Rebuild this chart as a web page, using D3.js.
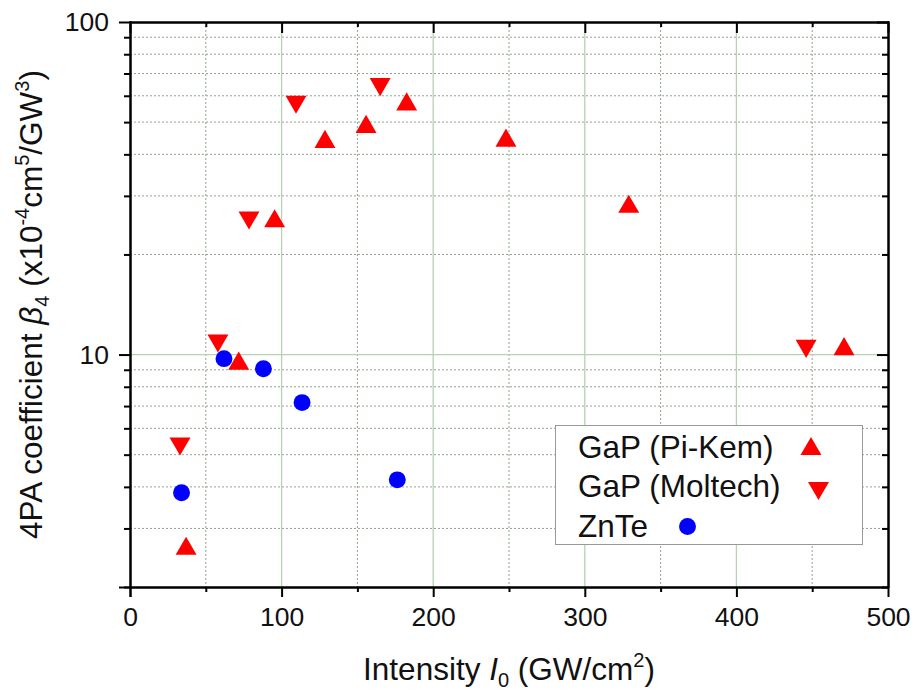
<!DOCTYPE html>
<html>
<head>
<meta charset="utf-8">
<script src="https://cdn.jsdelivr.net/npm/d3@7"></script>
<style>
  html, body { margin: 0; padding: 0; background: #fff; }
  svg { display: block; font-family: "Liberation Sans", Arial, sans-serif; }
</style>
</head>
<body>
<svg id="chart" width="915" height="693"></svg>
<script>
// Intensity I0 (GW/cm^2) and 4PA coefficient beta4 (x10^-4 cm^5/GW^3)
const piKemX = [37, 71.7, 95.4, 128.6, 155.7, 182.5, 248, 329, 471];
const piKemY = [2.66, 9.59, 25.7, 44.5, 49.4, 57.7, 44.9, 28.4, 10.6];

const moltechX = [33, 58, 78.5, 109.5, 165, 446];
const moltechY = [5.29, 10.8, 25.3, 56.4, 63.7, 10.4];

const znteX = [34, 62, 88, 113.5, 176.3];
const znteY = [3.84, 9.72, 9.06, 7.17, 4.20];

const xMajorTicks = [0, 100, 200, 300, 400, 500];
const xMinorTicks = [50, 150, 250, 350, 450];
const yMajorTicks = [10, 100];
const yMinorTicks = [2, 3, 4, 5, 6, 7, 8, 9, 20, 30, 40, 50, 60, 70, 80, 90];

const legendLabels = ["GaP (Pi-Kem)", "GaP (Moltech)", "ZnTe"];

(function draw() {
  const svg = d3.select("#chart");
  const pL = 130, pR = 888, pT = 22, pB = 587;
  const titleSize = 31.5, supSize = 20;

  const x = d3.scaleLinear().domain([0, 500]).range([pL, pR]);
  const y = d3.scaleLog().domain([2, 100]).range([pB, pT]);

  // grid
  const grid = svg.append("g");
  grid.selectAll(".gxm").data(xMinorTicks).join("line")
    .attr("x1", d => x(d)).attr("x2", d => x(d)).attr("y1", pT).attr("y2", pB)
    .attr("stroke", "#8fa58f").attr("stroke-width", 1).attr("stroke-dasharray", "2,2");
  grid.selectAll(".gym").data(yMinorTicks.filter(d => d > 2)).join("line")
    .attr("y1", d => y(d)).attr("y2", d => y(d)).attr("x1", pL).attr("x2", pR)
    .attr("stroke", "#8fa58f").attr("stroke-width", 1).attr("stroke-dasharray", "2,2");
  grid.selectAll(".gxM").data(xMajorTicks.filter(d => d > 0 && d < 500)).join("line")
    .attr("x1", d => x(d)).attr("x2", d => x(d)).attr("y1", pT).attr("y2", pB)
    .attr("stroke", "#b4d2b4").attr("stroke-width", 1.3);
  grid.selectAll(".gyM").data([10]).join("line")
    .attr("y1", d => y(d)).attr("y2", d => y(d)).attr("x1", pL).attr("x2", pR)
    .attr("stroke", "#b4d2b4").attr("stroke-width", 1.3);

  // axes
  function styleAxis(g) {
    g.select(".domain").attr("stroke", "#000").attr("stroke-width", 2);
    g.selectAll(".tick line").attr("stroke", "#000").attr("stroke-width", 2);
    g.selectAll("text").attr("font-size", 26.5).attr("fill", "#111")
      .attr("font-family", "Liberation Sans, Arial, sans-serif");
  }
  const fmt = d => String(d);

  // bottom: major and minor ticks, outward
  svg.append("g").attr("transform", `translate(0,${pB})`)
    .call(d3.axisBottom(x).tickValues(xMinorTicks).tickSize(5).tickFormat("").tickSizeOuter(0))
    .call(styleAxis);
  svg.append("g").attr("transform", `translate(0,${pB})`)
    .call(d3.axisBottom(x).tickValues(xMajorTicks).tickSize(10).tickPadding(10).tickFormat(fmt).tickSizeOuter(0))
    .call(styleAxis)
    .call(g => g.select(".domain").attr("d", `M${pL - 11},0.5H${pR}`));

  // top: inward
  svg.append("g").attr("transform", `translate(0,${pT})`)
    .call(d3.axisTop(x).tickValues(xMinorTicks).tickSize(-5).tickFormat("").tickSizeOuter(0))
    .call(styleAxis);
  svg.append("g").attr("transform", `translate(0,${pT})`)
    .call(d3.axisTop(x).tickValues(xMajorTicks).tickSize(-11).tickFormat("").tickSizeOuter(0))
    .call(styleAxis);

  // left: outward
  svg.append("g").attr("transform", `translate(${pL},0)`)
    .call(d3.axisLeft(y).tickValues(yMinorTicks).tickSize(6).tickFormat("").tickSizeOuter(0))
    .call(styleAxis);
  svg.append("g").attr("transform", `translate(${pL},0)`)
    .call(d3.axisLeft(y).tickValues(yMajorTicks).tickSize(11).tickPadding(10).tickFormat(fmt).tickSizeOuter(0))
    .call(styleAxis)
    .call(g => g.select(".domain").attr("d", `M0.5,${pT - 1}V${pB + 10}`));

  // right: inward
  svg.append("g").attr("transform", `translate(${pR},0)`)
    .call(d3.axisRight(y).tickValues(yMinorTicks).tickSize(-6).tickFormat("").tickSizeOuter(0))
    .call(styleAxis);
  svg.append("g").attr("transform", `translate(${pR},0)`)
    .call(d3.axisRight(y).tickValues(yMajorTicks).tickSize(-11).tickFormat("").tickSizeOuter(0))
    .call(styleAxis)
    .call(g => g.select(".domain").attr("d", `M0.5,${pT - 1}V${pB + 1}`));

  // markers (triangles shifted so their bounding box is centred on the value)
  const triUp = d3.symbol().type(d3.symbolTriangle).size(190);
  const circ = d3.symbol().type(d3.symbolCircle).size(225);

  const pts = (xs, ys) => xs.map((v, i) => [v, ys[i]]);

  const marks = svg.append("g");
  marks.selectAll(".pk").data(pts(piKemX, piKemY)).join("path")
    .attr("d", triUp).attr("fill", "#ff0000")
    .attr("transform", d => `translate(${x(d[0])},${y(d[1]) + 3})`);
  marks.selectAll(".mt").data(pts(moltechX, moltechY)).join("path")
    .attr("d", triUp).attr("fill", "#ff0000")
    .attr("transform", d => `translate(${x(d[0])},${y(d[1]) - 3}) rotate(180)`);
  marks.selectAll(".zn").data(pts(znteX, znteY)).join("path")
    .attr("d", circ).attr("fill", "#0000ff")
    .attr("transform", d => `translate(${x(d[0])},${y(d[1])})`);

  // legend
  const lg = svg.append("g");
  lg.append("rect").attr("x", 555.5).attr("y", 425.5).attr("width", 307).attr("height", 119)
    .attr("fill", "#fff").attr("stroke", "#999").attr("stroke-width", 1);
  const lgRows = [458, 497, 537];
  legendLabels.forEach((t, i) => {
    lg.append("text").attr("x", 578).attr("y", lgRows[i]).attr("font-size", titleSize)
      .attr("fill", "#111").text(t);
  });
  lg.append("path").attr("d", triUp).attr("fill", "#ff0000").attr("transform", "translate(811,449)");
  lg.append("path").attr("d", triUp).attr("fill", "#ff0000").attr("transform", "translate(818.5,488) rotate(180)");
  lg.append("path").attr("d", circ).attr("fill", "#0000ff").attr("transform", "translate(687.5,526.5)");

  // axis titles
  const xt = svg.append("text").attr("x", (pL + pR) / 2).attr("y", 680)
    .attr("text-anchor", "middle").attr("font-size", titleSize).attr("fill", "#111");
  xt.append("tspan").text("Intensity ");
  xt.append("tspan").attr("font-style", "italic").text("I");
  xt.append("tspan").attr("font-size", supSize).attr("dy", 7).text("0");
  xt.append("tspan").attr("dy", -7).text(" (GW/cm");
  xt.append("tspan").attr("font-size", supSize).attr("dy", -13).text("2");
  xt.append("tspan").attr("dy", 13).text(")");

  const yt = svg.append("text")
    .attr("transform", `translate(42,${(pT + pB) / 2}) rotate(-90)`)
    .attr("text-anchor", "middle").attr("font-size", titleSize).attr("fill", "#111");
  yt.append("tspan").text("4PA coefficient ");
  yt.append("tspan").attr("font-style", "italic").text("β");
  yt.append("tspan").attr("font-size", supSize).attr("dy", 7).text("4");
  yt.append("tspan").attr("dy", -7).text(" (x10");
  yt.append("tspan").attr("font-size", supSize).attr("dy", -13).text("-4");
  yt.append("tspan").attr("dy", 13).text("cm");
  yt.append("tspan").attr("font-size", supSize).attr("dy", -13).text("5");
  yt.append("tspan").attr("dy", 13).text("/GW");
  yt.append("tspan").attr("font-size", supSize).attr("dy", -13).text("3");
  yt.append("tspan").attr("dy", 13).text(")");
})();
</script>
</body>
</html>
